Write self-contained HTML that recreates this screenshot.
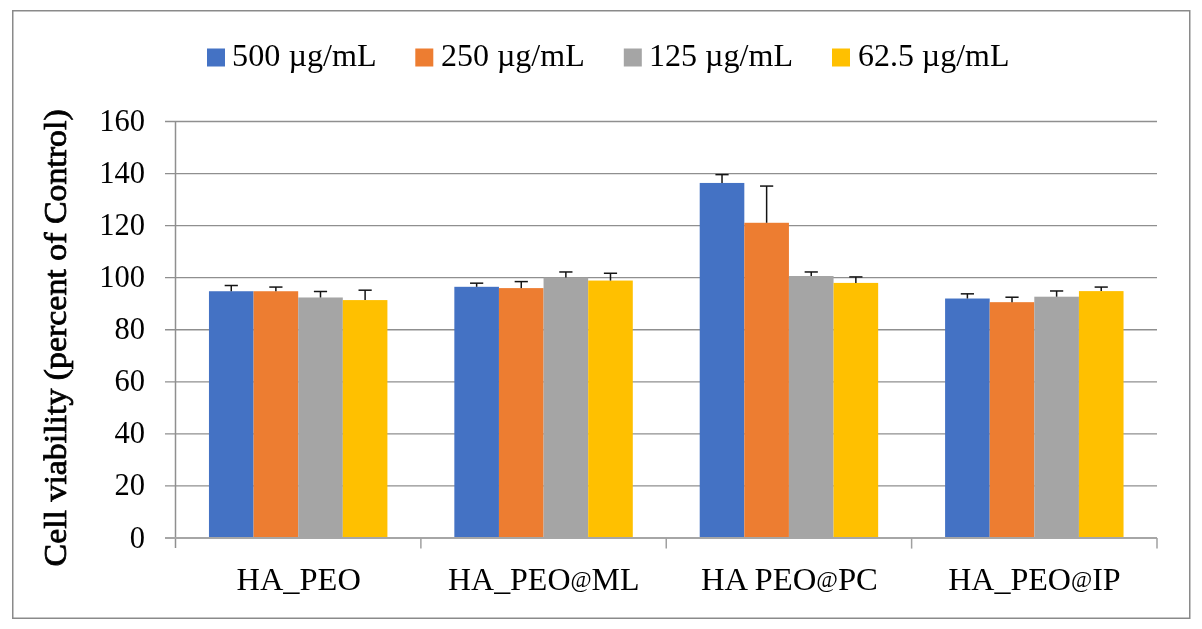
<!DOCTYPE html>
<html><head><meta charset="utf-8"><style>
html,body{margin:0;padding:0;background:#fff;width:1202px;height:629px;overflow:hidden}
svg{display:block;will-change:transform}
.t{font-family:"Liberation Serif",serif;font-size:32px;fill:#000}
.tb{font-family:"Liberation Serif",serif;font-size:32px;fill:#000;stroke:#000;stroke-width:0.8px}
</style></head><body>
<svg width="1202" height="629" viewBox="0 0 1202 629">
<rect x="12.75" y="10.75" width="1177" height="607.5" fill="#fff" stroke="#8a8a8a" stroke-width="1.5"/>
<line x1="165" y1="485.94" x2="1157.0" y2="485.94" stroke="#8f8f8f" stroke-width="1.33"/>
<line x1="165" y1="433.88" x2="1157.0" y2="433.88" stroke="#8f8f8f" stroke-width="1.33"/>
<line x1="165" y1="381.82" x2="1157.0" y2="381.82" stroke="#8f8f8f" stroke-width="1.33"/>
<line x1="165" y1="329.76" x2="1157.0" y2="329.76" stroke="#8f8f8f" stroke-width="1.33"/>
<line x1="165" y1="277.70" x2="1157.0" y2="277.70" stroke="#8f8f8f" stroke-width="1.33"/>
<line x1="165" y1="225.64" x2="1157.0" y2="225.64" stroke="#8f8f8f" stroke-width="1.33"/>
<line x1="165" y1="173.58" x2="1157.0" y2="173.58" stroke="#8f8f8f" stroke-width="1.33"/>
<line x1="165" y1="121.52" x2="1157.0" y2="121.52" stroke="#8f8f8f" stroke-width="1.33"/>
<rect x="208.96" y="291.24" width="44.61" height="246.76" fill="#4472C4"/>
<rect x="253.57" y="291.24" width="44.61" height="246.76" fill="#ED7D31"/>
<rect x="298.19" y="297.48" width="44.61" height="240.52" fill="#A5A5A5"/>
<rect x="342.80" y="300.09" width="44.61" height="237.91" fill="#FFC000"/>
<rect x="454.34" y="286.81" width="44.61" height="251.19" fill="#4472C4"/>
<rect x="498.95" y="288.11" width="44.61" height="249.89" fill="#ED7D31"/>
<rect x="543.56" y="277.44" width="44.61" height="260.56" fill="#A5A5A5"/>
<rect x="588.18" y="280.56" width="44.61" height="257.44" fill="#FFC000"/>
<rect x="699.71" y="182.95" width="44.61" height="355.05" fill="#4472C4"/>
<rect x="744.32" y="222.78" width="44.61" height="315.22" fill="#ED7D31"/>
<rect x="788.94" y="276.01" width="44.61" height="261.99" fill="#A5A5A5"/>
<rect x="833.55" y="282.91" width="44.61" height="255.09" fill="#FFC000"/>
<rect x="945.09" y="298.52" width="44.61" height="239.48" fill="#4472C4"/>
<rect x="989.70" y="302.17" width="44.61" height="235.83" fill="#ED7D31"/>
<rect x="1034.31" y="296.70" width="44.61" height="241.30" fill="#A5A5A5"/>
<rect x="1078.93" y="291.11" width="44.61" height="246.89" fill="#FFC000"/>
<line x1="231.27" y1="291.24" x2="231.27" y2="285.51" stroke="#141414" stroke-width="1.5"/>
<line x1="224.67" y1="285.51" x2="237.87" y2="285.51" stroke="#141414" stroke-width="1.5"/>
<line x1="275.88" y1="291.24" x2="275.88" y2="287.07" stroke="#141414" stroke-width="1.5"/>
<line x1="269.28" y1="287.07" x2="282.48" y2="287.07" stroke="#141414" stroke-width="1.5"/>
<line x1="320.49" y1="297.48" x2="320.49" y2="291.50" stroke="#141414" stroke-width="1.5"/>
<line x1="313.89" y1="291.50" x2="327.09" y2="291.50" stroke="#141414" stroke-width="1.5"/>
<line x1="365.11" y1="300.09" x2="365.11" y2="290.19" stroke="#141414" stroke-width="1.5"/>
<line x1="358.51" y1="290.19" x2="371.71" y2="290.19" stroke="#141414" stroke-width="1.5"/>
<line x1="476.64" y1="286.81" x2="476.64" y2="283.17" stroke="#141414" stroke-width="1.5"/>
<line x1="470.04" y1="283.17" x2="483.24" y2="283.17" stroke="#141414" stroke-width="1.5"/>
<line x1="521.26" y1="288.11" x2="521.26" y2="281.60" stroke="#141414" stroke-width="1.5"/>
<line x1="514.66" y1="281.60" x2="527.86" y2="281.60" stroke="#141414" stroke-width="1.5"/>
<line x1="565.87" y1="277.44" x2="565.87" y2="271.97" stroke="#141414" stroke-width="1.5"/>
<line x1="559.27" y1="271.97" x2="572.47" y2="271.97" stroke="#141414" stroke-width="1.5"/>
<line x1="610.48" y1="280.56" x2="610.48" y2="273.27" stroke="#141414" stroke-width="1.5"/>
<line x1="603.88" y1="273.27" x2="617.08" y2="273.27" stroke="#141414" stroke-width="1.5"/>
<line x1="722.02" y1="182.95" x2="722.02" y2="174.62" stroke="#141414" stroke-width="1.5"/>
<line x1="715.42" y1="174.62" x2="728.62" y2="174.62" stroke="#141414" stroke-width="1.5"/>
<line x1="766.63" y1="222.78" x2="766.63" y2="186.07" stroke="#141414" stroke-width="1.5"/>
<line x1="760.03" y1="186.07" x2="773.23" y2="186.07" stroke="#141414" stroke-width="1.5"/>
<line x1="811.24" y1="276.01" x2="811.24" y2="271.97" stroke="#141414" stroke-width="1.5"/>
<line x1="804.64" y1="271.97" x2="817.84" y2="271.97" stroke="#141414" stroke-width="1.5"/>
<line x1="855.86" y1="282.91" x2="855.86" y2="276.92" stroke="#141414" stroke-width="1.5"/>
<line x1="849.26" y1="276.92" x2="862.46" y2="276.92" stroke="#141414" stroke-width="1.5"/>
<line x1="967.39" y1="298.52" x2="967.39" y2="293.84" stroke="#141414" stroke-width="1.5"/>
<line x1="960.79" y1="293.84" x2="973.99" y2="293.84" stroke="#141414" stroke-width="1.5"/>
<line x1="1012.01" y1="302.17" x2="1012.01" y2="297.22" stroke="#141414" stroke-width="1.5"/>
<line x1="1005.41" y1="297.22" x2="1018.61" y2="297.22" stroke="#141414" stroke-width="1.5"/>
<line x1="1056.62" y1="296.70" x2="1056.62" y2="290.98" stroke="#141414" stroke-width="1.5"/>
<line x1="1050.02" y1="290.98" x2="1063.22" y2="290.98" stroke="#141414" stroke-width="1.5"/>
<line x1="1101.23" y1="291.11" x2="1101.23" y2="287.07" stroke="#141414" stroke-width="1.5"/>
<line x1="1094.63" y1="287.07" x2="1107.83" y2="287.07" stroke="#141414" stroke-width="1.5"/>
<line x1="175.5" y1="121.52" x2="175.5" y2="548" stroke="#8f8f8f" stroke-width="1.5"/>
<line x1="165" y1="538.0" x2="1157.0" y2="538.0" stroke="#a6a6a6" stroke-width="2"/>
<line x1="420.88" y1="538.0" x2="420.88" y2="548.6" stroke="#a0a0a0" stroke-width="1.5"/>
<line x1="666.25" y1="538.0" x2="666.25" y2="548.6" stroke="#a0a0a0" stroke-width="1.5"/>
<line x1="911.62" y1="538.0" x2="911.62" y2="548.6" stroke="#a0a0a0" stroke-width="1.5"/>
<line x1="1157.00" y1="538.0" x2="1157.00" y2="548.6" stroke="#a0a0a0" stroke-width="1.5"/>
<text transform="translate(145.0,547.50) scale(0.955,1)" text-anchor="end" class="t">0</text>
<text transform="translate(145.0,495.44) scale(0.955,1)" text-anchor="end" class="t">20</text>
<text transform="translate(145.0,443.38) scale(0.955,1)" text-anchor="end" class="t">40</text>
<text transform="translate(145.0,391.32) scale(0.955,1)" text-anchor="end" class="t">60</text>
<text transform="translate(145.0,339.26) scale(0.955,1)" text-anchor="end" class="t">80</text>
<text transform="translate(145.0,287.20) scale(0.955,1)" text-anchor="end" class="t">100</text>
<text transform="translate(145.0,235.14) scale(0.955,1)" text-anchor="end" class="t">120</text>
<text transform="translate(145.0,183.08) scale(0.955,1)" text-anchor="end" class="t">140</text>
<text transform="translate(145.0,131.02) scale(0.955,1)" text-anchor="end" class="t">160</text>
<text transform="translate(236.49,590.30) scale(1.0142,1)" class="t">HA_PEO</text>
<text transform="translate(448.00,590.30) scale(0.9984,1)" class="t">HA_PEO<tspan font-size="23" dy="-3.5">@</tspan><tspan dy="3.5">ML</tspan></text>
<text transform="translate(700.98,590.30) scale(1.0216,1)" class="t">HA PEO<tspan font-size="23" dy="-3.5">@</tspan><tspan dy="3.5">PC</tspan></text>
<text transform="translate(948.20,590.30) scale(1.0012,1)" class="t">HA_PEO<tspan font-size="23" dy="-3.5">@</tspan><tspan dy="3.5">IP</tspan></text>
<rect x="207" y="48.5" width="18" height="18" fill="#4472C4"/>
<text transform="translate(232.09,66.40) scale(1.0057,1)" class="t">500 µg/mL</text>
<rect x="415.3" y="48.5" width="18" height="18" fill="#ED7D31"/>
<text transform="translate(440.90,66.40) scale(1.0007,1)" class="t">250 µg/mL</text>
<rect x="623.8" y="48.5" width="18" height="18" fill="#A5A5A5"/>
<text transform="translate(648.89,66.40) scale(1.0029,1)" class="t">125 µg/mL</text>
<rect x="832" y="48.5" width="18" height="18" fill="#FFC000"/>
<text transform="translate(858.00,66.40) scale(0.9980,1)" class="t">62.5 µg/mL</text>
<text transform="translate(66.3,566.46) rotate(-90) scale(1.0591,1)" class="tb">Cell viability (percent of Control)</text>
</svg>
</body></html>
